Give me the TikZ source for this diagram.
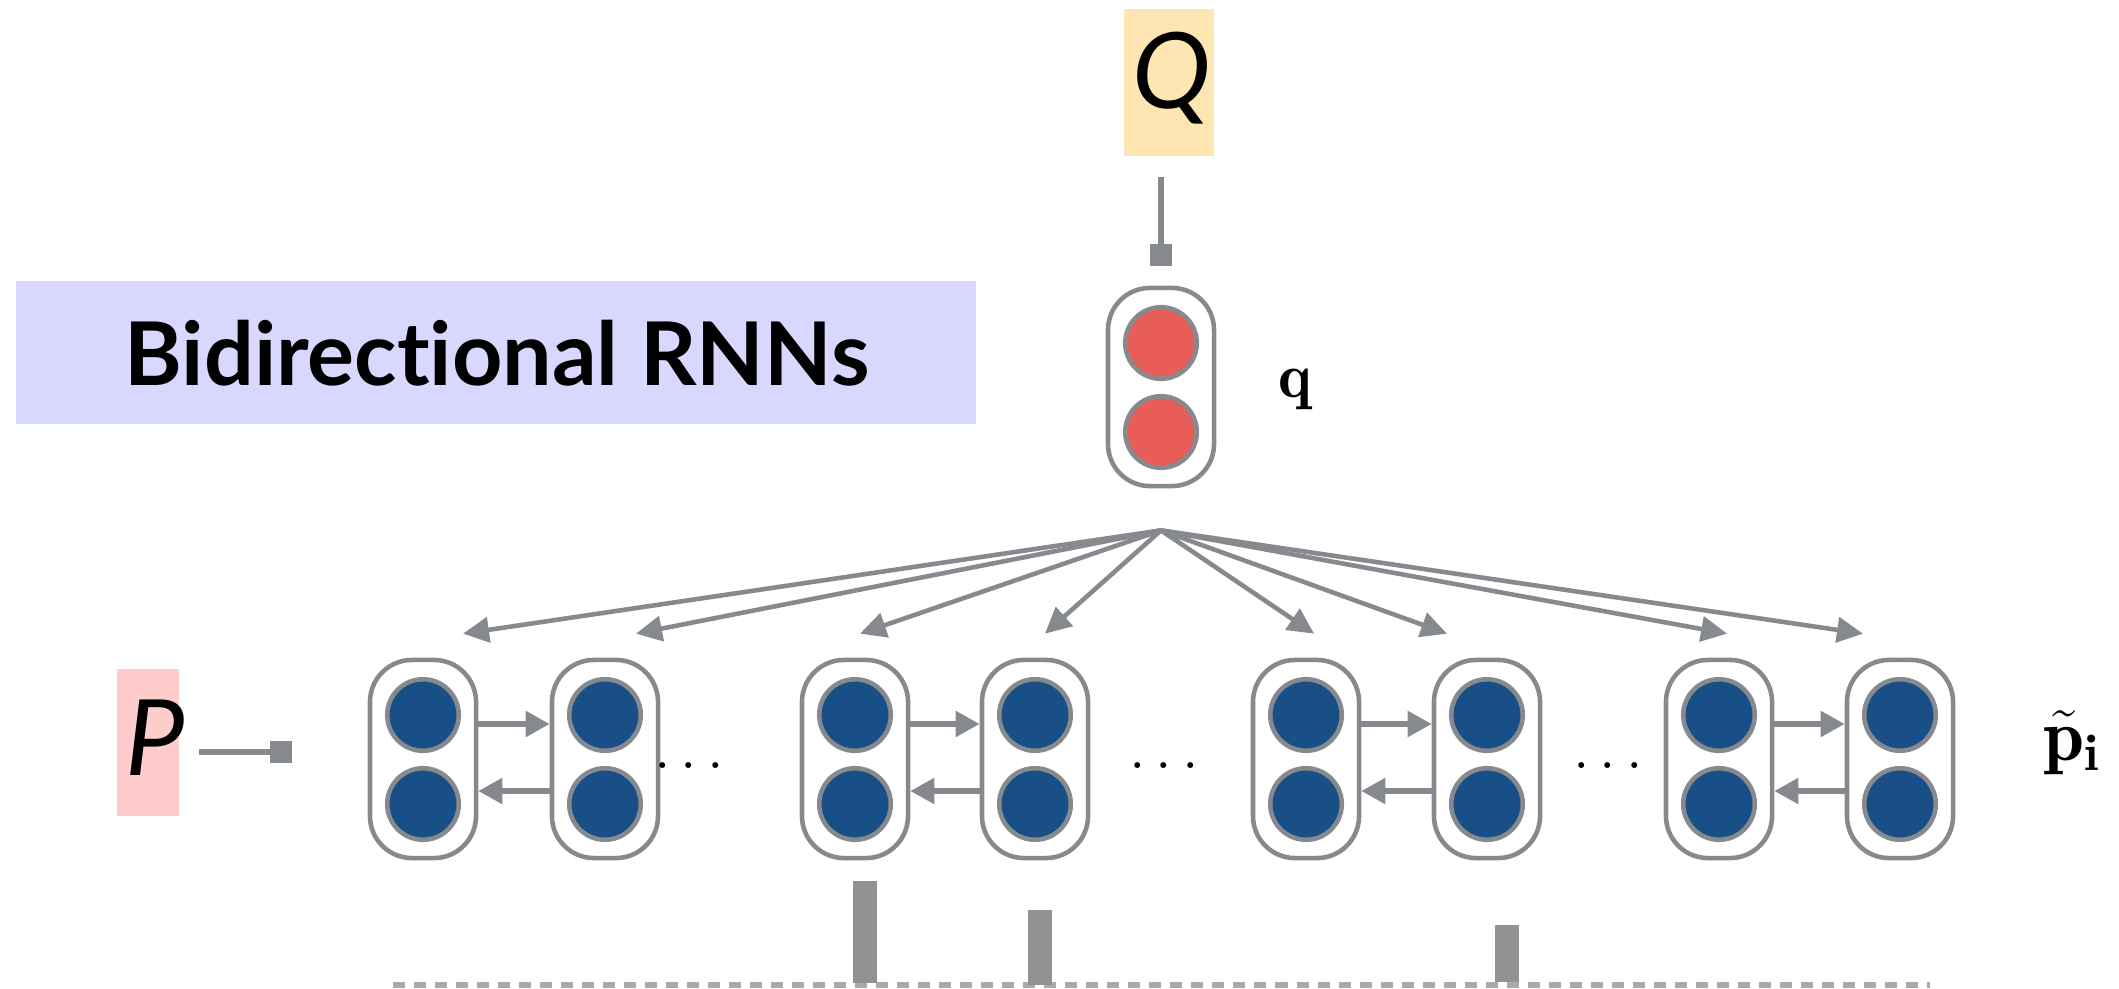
\documentclass[tikz,border=0pt]{standalone}
\usepackage{fontspec}
\newfontfamily\titlefont{Lato}[Ligatures=NoCommon]
\usetikzlibrary{arrows.meta}
\definecolor{lgray}{HTML}{86898E}
\definecolor{nblue}{HTML}{174F86}
\definecolor{nred}{HTML}{E95D58}
\definecolor{qfill}{HTML}{FEE6B2}
\definecolor{pfill}{HTML}{FFCCCC}
\definecolor{tfill}{HTML}{D8D8FE}
\definecolor{bargray}{HTML}{929292}
\definecolor{dashgray}{HTML}{AAAAAA}
\begin{document}
\begin{tikzpicture}[x=0.01cm,y=-0.01cm,
  cell/.style={draw=lgray, line width=1.3pt, rounded corners=0.42cm, minimum width=1.06cm, minimum height=1.98cm, inner sep=0pt},
  unitb/.style={circle, draw=lgray, fill=nblue, line width=1.3pt, minimum size=0.715cm, inner sep=0pt},
  unitr/.style={circle, draw=lgray, fill=nred, line width=1.3pt, minimum size=0.715cm, inner sep=0pt},
  rec/.style={draw=lgray, line width=1.5pt, -{Triangle[length=0.24cm,width=0.25cm]}},
  fan/.style={draw=lgray, line width=1.3pt, -{Triangle[length=0.26cm,width=0.25cm]}},
  sqline/.style={draw=lgray, line width=1.5pt, -{Square[length=0.22cm,width=0.22cm]}},
  bar/.style={fill=bargray, inner sep=0pt, minimum width=0.24cm, anchor=south},
  dots/.style={font=\fontsize{17}{19}\selectfont, inner sep=0pt, anchor=base},
  lettr/.style={font=\titlefont\itshape\fontsize{30}{34}\selectfont, inner sep=0pt},
]
\path[use as bounding box] (0,0) rectangle (2119,988);

% title
\node[fill=tfill, minimum width=9.6cm, minimum height=1.43cm, inner sep=0pt] (title) at (496,352.5) {};
\node[font=\titlefont\bfseries\fontsize{25}{28}\selectfont, anchor=base, inner sep=0pt] (titletext) at (497,385) {Bidirectional RNNs};

% Q
\node[fill=qfill, minimum width=0.9cm, minimum height=1.47cm, inner sep=0pt] (Qbox) at (1169,82.5) {};
\node[lettr] (Q) at (1172,78) {Q};

% q cell
\node[cell] (qc) at (1161,387) {};
\node[unitr] (qa) at (1161,343) {};
\node[unitr] (qb) at (1161,432) {};
\node[font=\fontsize{18}{20}\selectfont, anchor=base, inner sep=0pt] (qlab) at (1295,397) {$\mathbf{q}$};
\draw[sqline] ([yshift=-0.2cm]Qbox.south -| qc.north) -- ([yshift=0.2cm]qc.north);

% P
\node[fill=pfill, minimum width=0.62cm, minimum height=1.47cm, inner sep=0pt] (Pbox) at (148,742.5) {};
\node[lettr] (P) at (155,738) {P};
\coordinate (pstart) at (199,752);
\coordinate (pend) at (292,752);
\draw[sqline] (pstart) -- (pend);

% cells
\foreach \n/\x in {1/423,2/605,3/855,4/1035,5/1306,6/1487,7/1719,8/1900}{
  \node[cell] (c\n) at (\x,759) {};
  \node[unitb] (c\n a) at (\x,715) {};
  \node[unitb] (c\n b) at (\x,804) {};
}
\foreach \a/\b in {1/2,3/4,5/6,7/8}{
  \draw[rec] ([yshift=0.35cm]c\a.east) -- ([yshift=0.35cm]c\b.west);
  \draw[rec] ([yshift=-0.32cm]c\b.west) -- ([yshift=-0.32cm]c\a.east);
}
\node[dots] (d1) at (689,768) {$\ldots$};
\node[dots] (d2) at (1164,768) {$\ldots$};
\node[dots] (d3) at (1608,768) {$\ldots$};
\node[font=\fontsize{21}{24}\selectfont, anchor=base, inner sep=0pt] (plab) at (2072,760) {$\tilde{\mathbf{p}}_{\mathbf{i}}$};

% fan
\coordinate (fan) at ([yshift=-0.42cm]qc.south);
\foreach \n/\dx in {1/40,2/31,3/5,4/10,5/8,6/-40,7/8,8/-37}{
  \draw[fan] (fan) -- ([shift={(\dx,-24)}]c\n.north);
}

% bars and baseline
\coordinate (dl) at (393,985);
\coordinate (dr) at (1930,985);
\draw[dashgray, line width=1.6pt, dash pattern=on 0.12cm off 0.09cm] (dl) -- (dr);
\node[bar, minimum height=1.02cm] (b1) at (865,984) {};
\node[bar, minimum height=0.75cm] (b2) at (1040,986) {};
\node[bar, minimum height=0.57cm] (b3) at (1507,983) {};
\end{tikzpicture}
\end{document}
